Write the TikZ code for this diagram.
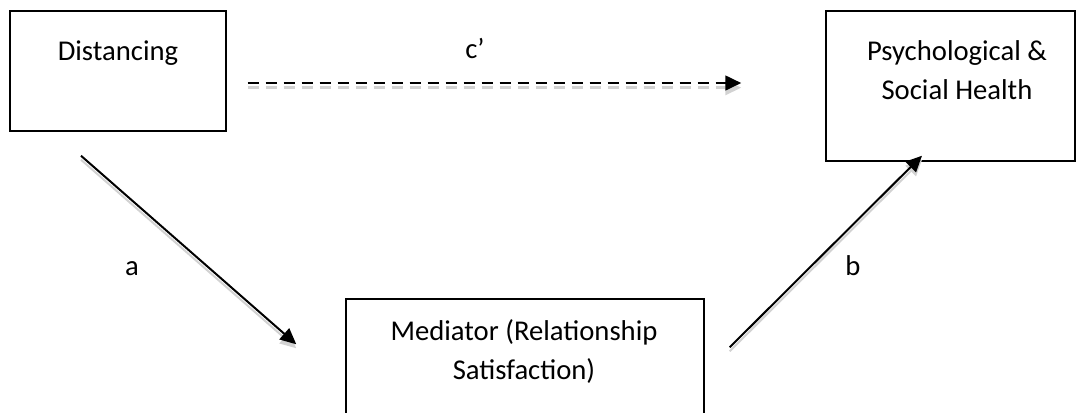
\documentclass[tikz,border=0pt]{standalone}
\usepackage{fontspec}
\setmainfont{Carlito}
\usetikzlibrary{arrows.meta,positioning}

\begin{document}
\begin{tikzpicture}[x=0.75pt, y=-0.75pt,
    every node/.style={font=\fontsize{21.5}{29.25}\selectfont},
    box/.style={draw, line width=1.1pt, inner sep=0pt},
    boxtext/.style={align=center, anchor=base, inner sep=0pt},
    pathlabel/.style={anchor=base, inner sep=0pt},
    link/.style={line width=1.5pt, -{Triangle[length=12pt,width=11pt]},
      preaction={draw=gray!35, line width=1.5pt, -{Triangle[length=12pt,width=11pt]},
        transform canvas={yshift=-3pt}}},
    dashlink/.style={line width=2pt, dash pattern=on 8.25pt off 5.25pt, -{Triangle[length=12pt,width=11pt]},
      preaction={draw=gray!35, line width=2pt, dash pattern=on 8.25pt off 5.25pt,
        -{Triangle[length=12pt,width=11pt]}, transform canvas={yshift=-3.5pt}}}]
  \clip (0,0) rectangle (1076,412);
  % Boxes
  \node[box, minimum width=162pt, minimum height=90pt] (dist) at (118,71) {};
  \node[box, minimum width=186.75pt, minimum height=112.5pt] (psych) at (950.5,86) {};
  \node[box, minimum width=268.5pt, minimum height=97.5pt] (med) at (525,364) {};
  % Box texts
  \node[boxtext] (dist-txt) at ([shift={(0,50)}]dist.north) {Distancing};
  \node[boxtext] (psych-txt) at ([shift={(6.5,89)}]psych.north) {Psychological \&\\Social Health};
  \node[boxtext] (med-txt) at ([shift={(-1,81)}]med.north) {Mediator (Relationship\\Satisfaction)};
  % Paths
  \draw[dashlink] ([shift={(21,12)}]dist.east) -- ([shift={(-84,-3)}]psych.west);
  \draw[link] ([shift={(-37,24)}]dist.south) -- ([shift={(-49,46)}]med.north west);
  \draw[link] ([shift={(25,49)}]med.north east) -- ([shift={(-28.5,-6)}]psych.south);
  % Path labels
  \node[pathlabel] (c-lbl) at (475,58) {c’};
  \node[pathlabel] (a-lbl) at (132,275) {a};
  \node[pathlabel] (b-lbl) at (853,275) {b};
\end{tikzpicture}
\end{document}
